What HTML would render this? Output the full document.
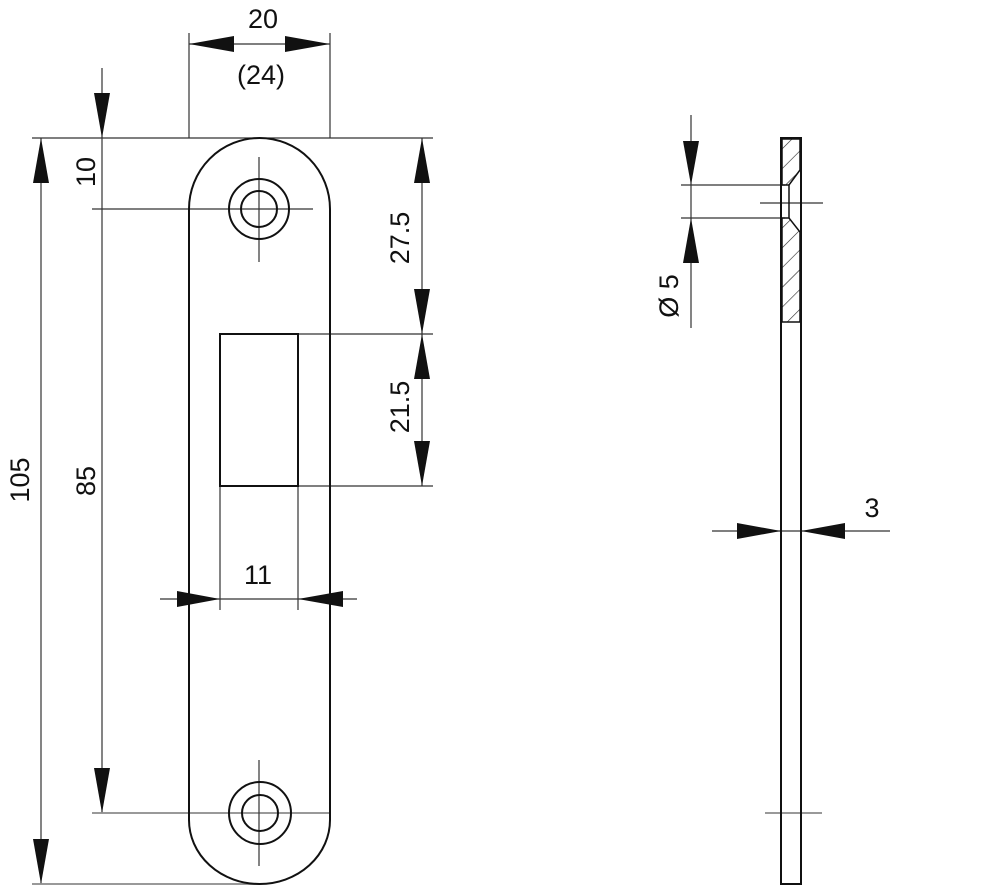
<!DOCTYPE html>
<html><head><meta charset="utf-8"><style>
html,body{margin:0;padding:0;background:#fff;}
svg{display:block;}
text{font-family:"Liberation Sans",sans-serif;font-size:27px;fill:#111;}
</style></head><body>
<svg width="1000" height="886" viewBox="0 0 1000 886" xmlns="http://www.w3.org/2000/svg">
<defs>
<pattern id="h" width="14" height="14" patternUnits="userSpaceOnUse" patternTransform="rotate(45)">
<line x1="0" y1="0" x2="0" y2="14" stroke="#222" stroke-width="1.2"/>
</pattern>
</defs>
<g stroke="#333" stroke-width="1.2" fill="none">
<!-- thin dimension/extension lines -->
<line x1="189" y1="33" x2="189" y2="138"/>
<line x1="330" y1="33" x2="330" y2="138"/>
<line x1="189" y1="44" x2="330" y2="44"/>
<line x1="32" y1="138" x2="433" y2="138"/>
<line x1="41" y1="138" x2="41" y2="884"/>
<line x1="102" y1="68" x2="102" y2="813"/>
<line x1="92" y1="209" x2="313" y2="209"/>
<line x1="92" y1="813" x2="330" y2="813" stroke="#999" stroke-width="2"/>
<line x1="259" y1="157" x2="259" y2="262"/>
<line x1="259" y1="760" x2="259" y2="866"/>
<line x1="422" y1="138" x2="422" y2="486"/>
<line x1="298" y1="334" x2="433" y2="334"/>
<line x1="298" y1="486" x2="433" y2="486"/>
<line x1="220" y1="486" x2="220" y2="610"/>
<line x1="298" y1="486" x2="298" y2="610"/>
<line x1="160" y1="599" x2="357" y2="599"/>
<line x1="32" y1="884" x2="260" y2="884" stroke="#999" stroke-width="2"/>
<!-- side view dims -->
<line x1="691" y1="115" x2="691" y2="328"/>
<line x1="681" y1="185" x2="785" y2="185"/>
<line x1="681" y1="218" x2="785" y2="218"/>
<line x1="760" y1="203" x2="823" y2="203"/>
<line x1="712" y1="531" x2="890" y2="531"/>
<line x1="765" y1="813" x2="822" y2="813" stroke="#999" stroke-width="2"/>
</g>
<g stroke="#111" stroke-width="2" fill="none">
<path d="M189 209 A70.5 71 0 0 1 330 209 L330 820 A70.5 64 0 0 1 189 820 Z"/>
<circle cx="259" cy="209" r="30"/>
<circle cx="259" cy="209" r="18"/>
<ellipse cx="260" cy="813" rx="31" ry="31"/>
<ellipse cx="260" cy="813" rx="18" ry="18"/>
<rect x="220" y="334" width="78" height="152"/>
<!-- side view -->
<rect x="781" y="138" width="20" height="746"/>
</g>
<g stroke="#111" stroke-width="1.5">
<path d="M782 139 L800 139 L800 170 L789 185 L782 185 Z" fill="url(#h)"/>
<path d="M782 218 L789 218 L800 232 L800 322 L782 322 Z" fill="url(#h)"/>
<line x1="789" y1="185" x2="789" y2="218"/>
</g>
<g fill="#111">
<!-- 20 dim arrows -->
<polygon points="189,44 234,36 234,52"/>
<polygon points="330,44 285,36 285,52"/>
<!-- 105 -->
<polygon points="41,138 33,183 49,183"/>
<polygon points="41,884 33,839 49,839"/>
<!-- 10/85 -->
<polygon points="102,138 94,93 110,93"/>
<polygon points="102,813 94,768 110,768"/>
<!-- 27.5 / 21.5 -->
<polygon points="422,138 414,183 430,183"/>
<polygon points="422,334 414,289 430,289"/>
<polygon points="422,334 414,379 430,379"/>
<polygon points="422,486 414,441 430,441"/>
<!-- 11 -->
<polygon points="220,599 177,591 177,607"/>
<polygon points="298,599 343,591 343,607"/>
<!-- Ø5 -->
<polygon points="691,185 683,141 699,141"/>
<polygon points="691,218 683,263 699,263"/>
<!-- 3 -->
<polygon points="781,531 737,523 737,539"/>
<polygon points="801,531 845,523 845,539"/>
</g>
<text x="263" y="28" text-anchor="middle">20</text>
<text x="261" y="84" text-anchor="middle">(24)</text>
<text x="258" y="584" text-anchor="middle">11</text>
<text x="872" y="517" text-anchor="middle">3</text>
<text transform="translate(29,480) rotate(-90)" text-anchor="middle">105</text>
<text transform="translate(95,172) rotate(-90)" text-anchor="middle">10</text>
<text transform="translate(95,481) rotate(-90)" text-anchor="middle">85</text>
<text transform="translate(409,238) rotate(-90)" text-anchor="middle">27.5</text>
<text transform="translate(409,407) rotate(-90)" text-anchor="middle">21.5</text>
<text transform="translate(678,296) rotate(-90)" text-anchor="middle">Ø 5</text>
</svg>
</body></html>
